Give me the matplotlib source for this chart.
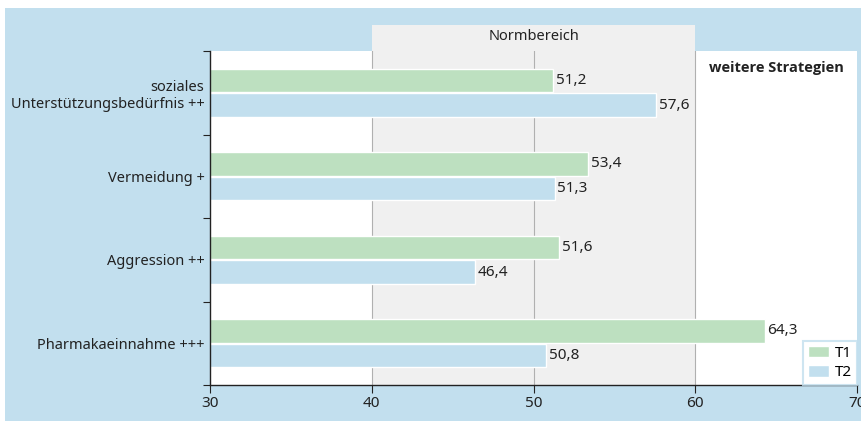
import matplotlib
matplotlib.use("Agg")
import matplotlib.pyplot as plt
from matplotlib.patches import Rectangle
import numpy as np

categories = ["soziales\nUnterstützungsbedürfnis ++", "Vermeidung +", "Aggression ++", "Pharmakaeinnahme +++"]
t1 = [51.2, 53.4, 51.6, 64.3]
t2 = [57.6, 51.3, 46.4, 50.8]
series_names = ["T1", "T2"]
xticks = [30, 40, 50, 60, 70]
norm_range = (40, 60)

BLUE = "#c2dfee"
GREEN = "#bde0c0"
GRAY = "#f0f0f0"
TXT = "#222222"

plt.rcParams['font.family'] = ['Noto Sans', 'DejaVu Sans']
plt.rcParams['font.size'] = 10.5

W, H = 861, 421
fig = plt.figure(figsize=(W/100, H/100), dpi=100, facecolor="white")
# blue background panel
fig.patches.append(Rectangle((5/W, 0), 1 - 5/W, (H-8)/H, transform=fig.transFigure,
                             facecolor=BLUE, edgecolor="none", zorder=-10))

ax_l, ax_r, ax_t, ax_b = 210, 857, 51, 385
ax = fig.add_axes([ax_l/W, 1 - ax_b/H, (ax_r-ax_l)/W, (ax_b-ax_t)/H])
ax.set_facecolor("white")
ax.set_xlim(30, 70)
n = len(categories)
ax.set_ylim(n, 0)

# Normbereich band extending above axes
top_ext = (ax_b - 25) / (ax_b - ax_t)
band = Rectangle((norm_range[0], 0), norm_range[1]-norm_range[0], top_ext,
                 transform=ax.get_xaxis_transform(), facecolor=GRAY, edgecolor="none",
                 clip_on=False, zorder=0.5)
ax.add_patch(band)
ax.text(np.mean(norm_range), (ax_b - 36) / (ax_b - ax_t), "Normbereich",
        transform=ax.get_xaxis_transform(), ha="center", va="center", color=TXT, fontsize=10.5)

for xv in [40, 50, 60]:
    ax.axvline(xv, color="#b0b0b0", lw=0.8, zorder=0.8)

y = np.arange(n) + 0.5
h = 0.28
off = 0.148
b1 = ax.barh(y - off, t1, height=h, color=GREEN, edgecolor="white", lw=1, zorder=2, label=series_names[0])
b2 = ax.barh(y + off, t2, height=h, color=BLUE, edgecolor="white", lw=1, zorder=2, label=series_names[1])
for ys, vals in ((y - off, t1), (y + off, t2)):
    for yy, v in zip(ys, vals):
        ax.annotate(f"{v:.1f}".replace(".", ","), (v, yy), xytext=(2, 0), textcoords="offset points",
                    ha="left", va="center", color=TXT, fontsize=11, zorder=3)

ax.text(0.876, 0.95, "weitere Strategien", transform=ax.transAxes, ha="center", va="center",
        fontweight="bold", family=["Open Sans", "DejaVu Sans"], color=TXT, fontsize=10.5)

ax.set_xticks(xticks)
ax.set_xticklabels([str(t) for t in xticks])
ax.set_yticks(np.arange(n+1))
ax.set_yticklabels([])
ax.set_yticks(y, minor=True)
ax.set_yticklabels(categories, minor=True, ha="right", multialignment="right")
ax.tick_params(axis="y", which="minor", length=0, pad=4, colors=TXT, labelsize=10.5)
ax.tick_params(axis="y", which="major", length=5, direction="out", color="#222222")
ax.tick_params(axis="x", length=6, direction="out", color="#222222", labelcolor=TXT, pad=2, labelsize=11)
for s in ["top", "right"]:
    ax.spines[s].set_visible(False)
for s in ["left", "bottom"]:
    ax.spines[s].set_color("#222222")
    ax.spines[s].set_linewidth(1.0)

leg = ax.legend(loc="lower right", frameon=True, fancybox=False, edgecolor=BLUE,
                borderaxespad=0.0, handlelength=1.4, handleheight=0.8, handletextpad=0.4,
                labelspacing=0.3, borderpad=0.3, fontsize=11)
leg.get_frame().set_linewidth(1.5)

fig.savefig("out.png", dpi=100, facecolor="white")
